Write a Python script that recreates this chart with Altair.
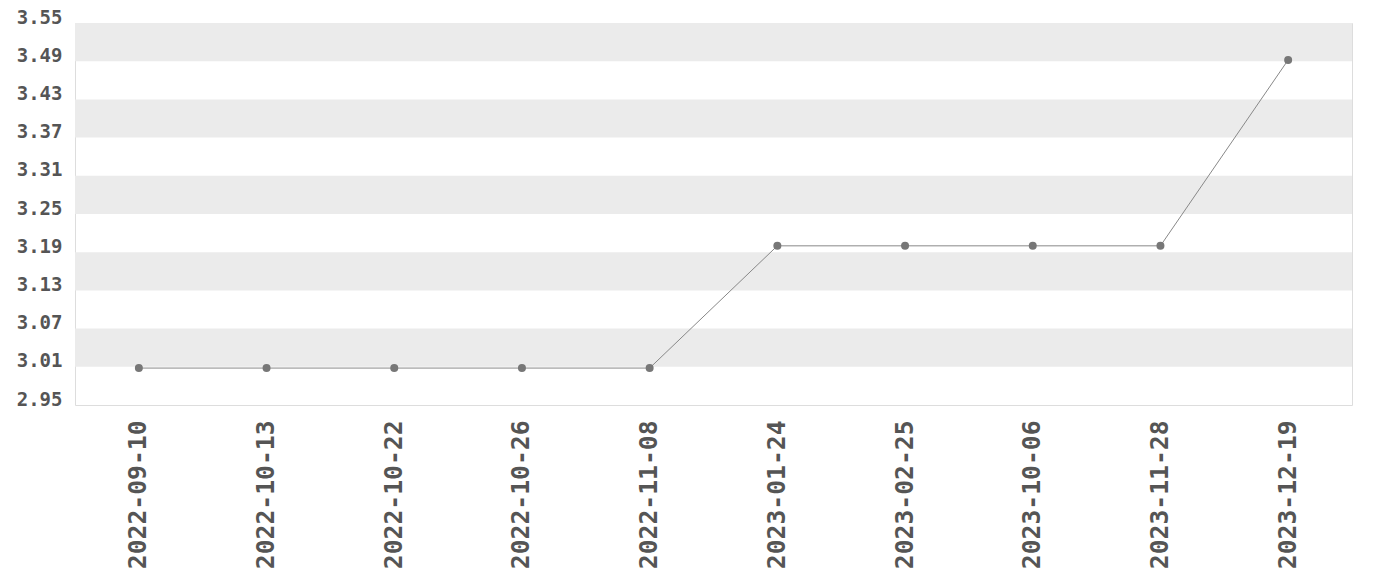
import altair as alt
import pandas as pd

dates = ["2022-09-10", "2022-10-13", "2022-10-22", "2022-10-26", "2022-11-08",
         "2023-01-24", "2023-02-25", "2023-10-06", "2023-11-28", "2023-12-19"]
values = [3.008, 3.008, 3.008, 3.008, 3.008, 3.2, 3.2, 3.2, 3.2, 3.492]
y_ticks = [2.95, 3.01, 3.07, 3.13, 3.19, 3.25, 3.31, 3.37, 3.43, 3.49, 3.55]

W, H = 1277, 382
FONT = "DejaVu Sans Mono"

df = pd.DataFrame({"date": dates, "value": values})
bands = pd.DataFrame({
    "lo": [y_ticks[i] for i in range(1, len(y_ticks) - 1, 2)],
    "hi": [y_ticks[i + 1] for i in range(1, len(y_ticks) - 1, 2)],
})

yscale = alt.Scale(domain=[y_ticks[0], y_ticks[-1]], nice=False, zero=False)
yaxis = alt.Axis(values=y_ticks, format=".2f", labelFont=FONT, labelFontSize=19,
                 labelFontWeight="bold", labelColor="#555555", ticks=False,
                 domain=False, grid=False, labelPadding=13, labelOverlap=False,
                 labelFlush=False, labelBaseline="alphabetic", title=None)
xaxis = alt.Axis(labelAngle=-90, labelFont=FONT, labelFontSize=24.7,
                 labelFontWeight="bold", labelColor="#555555", ticks=False,
                 domain=False, grid=False, labelPadding=15, labelOverlap=False, title=None)
xscale = alt.Scale(type="point", padding=0.5)

band_layer = alt.Chart(bands).mark_rect(color="#ebebeb").encode(
    x=alt.value(0), x2=alt.value(W),
    y=alt.Y("lo:Q", scale=yscale, axis=yaxis),
    y2="hi:Q",
)

line = alt.Chart(df).mark_line(color="#888888", strokeWidth=1).encode(
    x=alt.X("date:N", sort=dates, scale=xscale, axis=xaxis),
    y=alt.Y("value:Q", scale=yscale, axis=yaxis),
)
pts = alt.Chart(df).mark_point(filled=True, color="#777777", size=64, opacity=1).encode(
    x=alt.X("date:N", sort=dates, scale=xscale, axis=xaxis),
    y=alt.Y("value:Q", scale=yscale, axis=yaxis),
)

chart = alt.layer(band_layer, line, pts).properties(
    width=W, height=H,
    autosize=alt.AutoSizeParams(type="none"),
    padding={"left": 67, "top": 15, "right": 20, "bottom": 170},
).configure_view(stroke="#dddddd", strokeWidth=1).configure(background="white")

chart.save("out.html", embed_options={"renderer": "svg", "actions": False})
